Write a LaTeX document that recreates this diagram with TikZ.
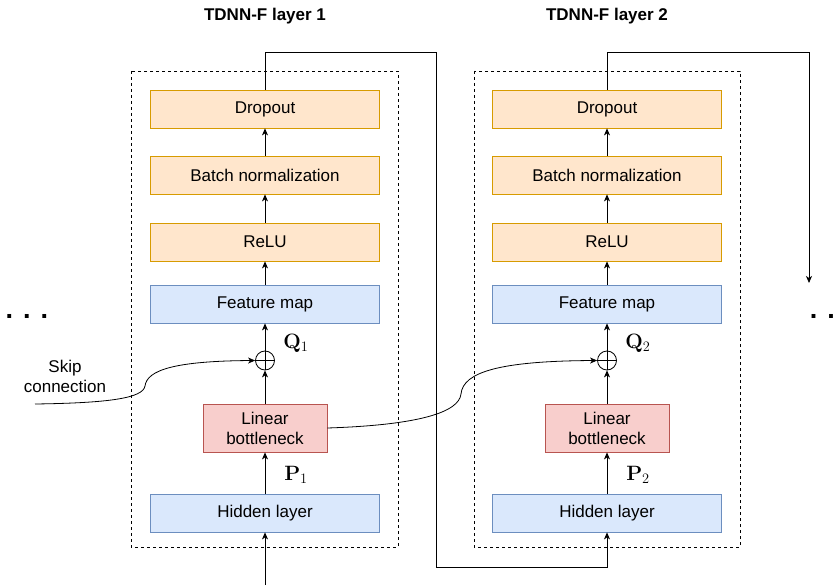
\documentclass[tikz,border=0pt]{standalone}
\usepackage{amsmath}
\usepackage[no-math]{fontspec}
\setmainfont{Liberation Sans}
\usetikzlibrary{arrows.meta}

\definecolor{orangefill}{HTML}{FFE6CC}
\definecolor{orangeline}{HTML}{D79B00}
\definecolor{bluefill}{HTML}{DAE8FC}
\definecolor{blueline}{HTML}{6C8EBF}
\definecolor{redfill}{HTML}{F8CECC}
\definecolor{redline}{HTML}{B85450}

\tikzset{
    box/.style={draw,line width=0.8pt,minimum width=229pt,minimum height=38pt,inner sep=0pt,font=\fontsize{17}{20}\selectfont},
    orangebox/.style={box,draw=orangeline,fill=orangefill},
    bluebox/.style={box,draw=blueline,fill=bluefill},
    redbox/.style={box,draw=redline,fill=redfill,minimum width=124pt,minimum height=48pt,align=center},
    sumnode/.style={circle,draw,line width=0.8pt,minimum size=19pt,inner sep=0pt},
    arr/.style={-{Stealth[length=7pt,width=6pt,inset=2pt]},line width=0.8pt},
    frame/.style={dash pattern=on 3pt off 3pt,line width=0.8pt},
    title/.style={font=\fontsize{17}{20}\selectfont\bfseries},
    vec/.style={font=\fontsize{21}{24}\selectfont},
    dots/.style={font=\fontsize{27}{30}\selectfont\bfseries},
}

\begin{document}
\begin{tikzpicture}[x=1pt,y=-1pt]
    \useasboundingbox (0,0) rectangle (838,588);
    \draw[frame] (131,71) rectangle (398,547);
    \draw[frame] (474,71) rectangle (740,547);

    \node[title] (t1) at (265,16) {TDNN-F layer 1};
    \node[title] (t2) at (607,16) {TDNN-F layer 2};

    \node[orangebox] (drop1) at (265,109) {Dropout};
    \node[orangebox] (bn1) at (265,175) {Batch normalization};
    \node[orangebox] (relu1) at (265,242) {ReLU};
    \node[bluebox] (fmap1) at (265,304) {Feature map};
    \node[sumnode] (sum1) at (265,360.5) {};
    \node[redbox] (lin1) at (265,428) {Linear\\bottleneck};
    \node[bluebox] (hid1) at (265,513) {Hidden layer};
    \node[vec] (q1) at (296,343) {$\mathbf{Q}_1$};
    \node[vec] (p1) at (296,475) {$\mathbf{P}_1$};

    \node[orangebox] (drop2) at (607,109) {Dropout};
    \node[orangebox] (bn2) at (607,175) {Batch normalization};
    \node[orangebox] (relu2) at (607,242) {ReLU};
    \node[bluebox] (fmap2) at (607,304) {Feature map};
    \node[sumnode] (sum2) at (607,360.5) {};
    \node[redbox] (lin2) at (607,428) {Linear\\bottleneck};
    \node[bluebox] (hid2) at (607,513) {Hidden layer};
    \node[vec] (q2) at (638,343) {$\mathbf{Q}_2$};
    \node[vec] (p2) at (638,475) {$\mathbf{P}_2$};

    \node[dots] (dotsl) at (27,316) {. . .};
    \node[dots] (dotsr) at (831,316) {. . .};
    \node[box,draw=none,minimum width=0pt,minimum height=0pt,align=center] (skiptxt) at (65,376) {Skip\\connection};

    \coordinate (in1) at (265,585);
    \coordinate (skip) at (35,404);
    \coordinate (up1) at (436,52);
    \coordinate (down1) at (436,567);
    \coordinate (up2) at (809,52);
    \coordinate (out2) at (809,283);

    % plus signs
    \draw[line width=0.8pt] (sum1.north) -- (sum1.south) (sum1.west) -- (sum1.east);
    \draw[line width=0.8pt] (sum2.north) -- (sum2.south) (sum2.west) -- (sum2.east);

    \draw[arr] (in1) -- (hid1.south);
    \draw[arr] (hid1.north) -- (lin1.south);
    \draw[arr] (lin1.north) -- (sum1.south);
    \draw[arr] (sum1.north) -- (fmap1.south);
    \draw[arr] (fmap1.north) -- (relu1.south);
    \draw[arr] (relu1.north) -- (bn1.south);
    \draw[arr] (bn1.north) -- (drop1.south);

    \draw[arr] (hid2.north) -- (lin2.south);
    \draw[arr] (lin2.north) -- (sum2.south);
    \draw[arr] (sum2.north) -- (fmap2.south);
    \draw[arr] (fmap2.north) -- (relu2.south);
    \draw[arr] (relu2.north) -- (bn2.south);
    \draw[arr] (bn2.north) -- (drop2.south);

    \draw[arr] (drop1.north) |- (up1) -- (down1) -| (hid2.south);
    \draw[arr] (drop2.north) |- (up2) -- (out2);

    \draw[arr] (skip) .. controls (110,403) and (143,398) .. (145,386) .. controls (147,370) and (175,361) .. (sum1.west);
    \draw[arr] (lin1.east) .. controls (420,425) and (459,412) .. (461,394) .. controls (463,372) and (500,361) .. (sum2.west);
\end{tikzpicture}
\end{document}
